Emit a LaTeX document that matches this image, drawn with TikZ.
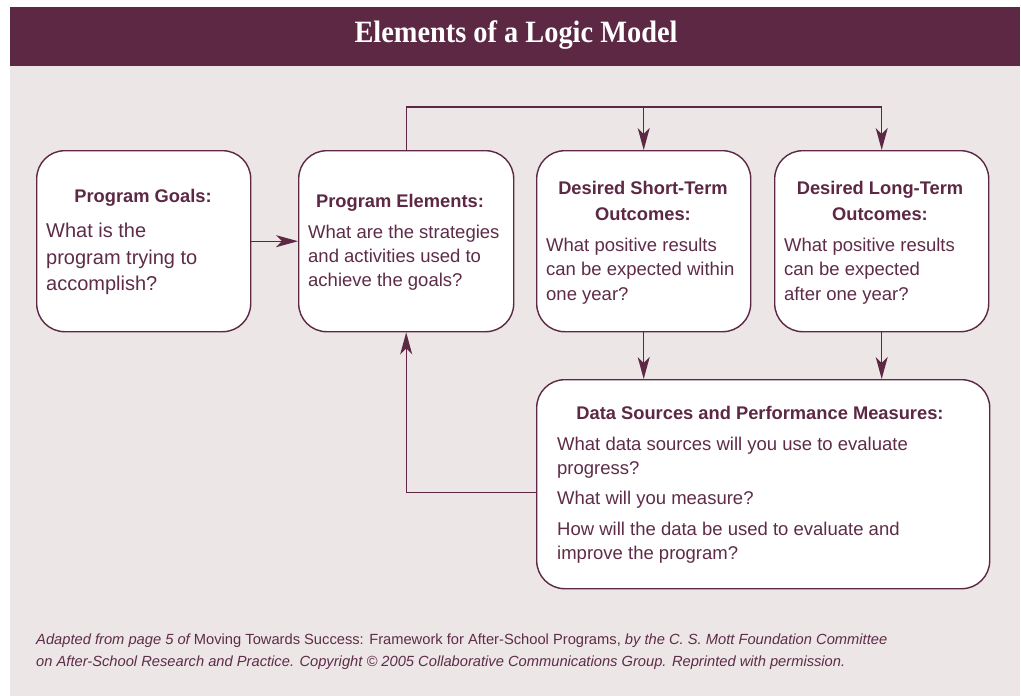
\documentclass[tikz,border=0pt]{standalone}
\usepackage{fontspec}
\setmainfont{Liberation Sans}
\newfontfamily\titlefont{Liberation Serif}
\usetikzlibrary{arrows.meta,calc}
\definecolor{plum}{HTML}{5C2844}
\definecolor{plumtext}{HTML}{5E2C48}
\definecolor{bgpink}{HTML}{ECE6E6}
\tikzset{
  box/.style={draw=plum, fill=white, rounded corners=28pt, line width=1.4pt, inner sep=0pt, anchor=north west},
  conn/.style={draw=plum, line width=1.4pt},
  arr/.style={conn, -{Stealth[length=22pt,width=12pt,inset=6pt]}},
  hd/.style={inner sep=0pt, anchor=base, text=plum, font=\fontsize{18.3}{22}\selectfont\bfseries},
  bd/.style={inner sep=0pt, anchor=base west, text=plumtext, font=\fontsize{18.5}{24}\selectfont},
  bdg/.style={bd, font=\fontsize{20}{26}\selectfont},
  foot/.style={inner sep=0pt, anchor=base west, text=plumtext, font=\fontsize{14.7}{17}\selectfont\itshape}
}
\begin{document}
\begin{tikzpicture}[x=1pt,y=-1pt]
\useasboundingbox (0,0) rectangle (1021,696);
\fill[white] (0,0) rectangle (1021,696);
\fill[bgpink] (10,7) rectangle (1020,696);
\fill[plum] (10,7) rectangle (1020,66);
\node[inner sep=0pt, anchor=base, text=white] (title) at (516,42)
  {\scalebox{0.915}[1]{\titlefont\bfseries\fontsize{31}{31}\selectfont Elements of a Logic Model}};

% boxes
\node[box, minimum width=214pt, minimum height=181pt] (goals) at (36,150) {};
\node[box, minimum width=215pt, minimum height=181pt] (elems) at (298,150) {};
\node[box, minimum width=214pt, minimum height=181pt] (short) at (536,150) {};
\node[box, minimum width=214pt, minimum height=181pt] (long) at (774,150) {};
\node[box, minimum width=453pt, minimum height=209pt] (data) at (536,379) {};

% connectors
\draw[arr] (goals.east) -- (elems.west);
\path (elems.north) ++(0,-43) coordinate (tl);
\draw[arr] (elems.north) -- (tl) -| (long.north);
\draw[arr] (tl -| short.north) -- (short.north);
\draw[arr] (short.south) -- (short.south |- data.north);
\draw[arr] (long.south) -- (long.south |- data.north);
\path (data.west) ++(0,8.5) coordinate (fb);
\draw[arr] (fb) -| (elems.south);

% Program Goals
\node[hd] (gh) at (143,202) {Program Goals:};
\node[bdg] (g1) at (46,237) {What is the};
\node[bdg] (g2) at (46,264) {program trying to};
\node[bdg] (g3) at (46,290) {accomplish?};

% Program Elements
\node[hd] (eh) at (400,207) {Program Elements:};
\node[bd] (e1) at (308,238) {What are the strategies};
\node[bd] (e2) at (308,262) {and activities used to};
\node[bd] (e3) at (308,286) {achieve the goals?};

% Short-term
\node[hd] (sh1) at (643,194) {Desired Short-Term};
\node[hd] (sh2) at (643,220) {Outcomes:};
\node[bd] (s1) at (546,251) {What positive results};
\node[bd] (s2) at (546,275) {can be expected within};
\node[bd] (s3) at (546,300) {one year?};

% Long-term
\node[hd] (lh1) at (880,194) {Desired Long-Term};
\node[hd] (lh2) at (880,220) {Outcomes:};
\node[bd] (l1) at (784,251) {What positive results};
\node[bd] (l2) at (784,275) {can be expected};
\node[bd] (l3) at (784,300) {after one year?};

% Data sources
\node[hd] (dh) at (760,419) {Data Sources and Performance Measures:};
\node[bd] (d1) at (557,450) {What data sources will you use to evaluate};
\node[bd] (d2) at (557,474) {progress?};
\node[bd] (d3) at (557,504) {What will you measure?};
\node[bd] (d4) at (557,535) {How will the data be used to evaluate and};
\node[bd] (d5) at (557,559) {improve the program?};

% footer
\node[foot] (f1) at (36,644) {Adapted from page 5 of \upshape Moving Towards Success: Framework for After-School Programs, \itshape by the C. S. Mott Foundation Committee};
\node[foot] (f2) at (36,666) {on After-School Research and Practice. Copyright \textcopyright\ 2005 Collaborative Communications Group. Reprinted with permission.};
\end{tikzpicture}
\end{document}
